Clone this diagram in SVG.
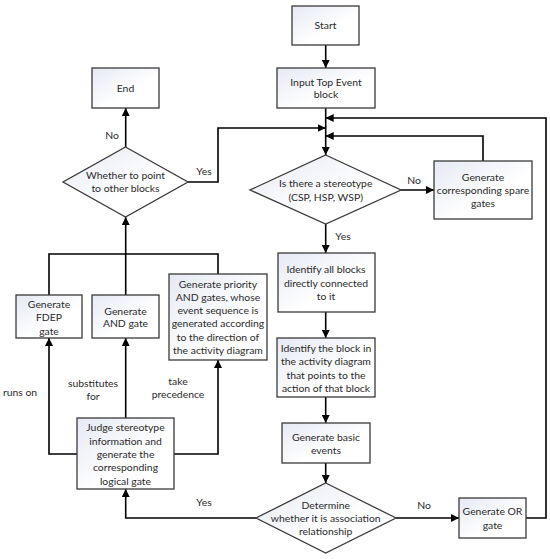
<svg xmlns="http://www.w3.org/2000/svg" width="550" height="559" viewBox="0 0 550 559">
<defs>
<linearGradient id="g" x1="0" y1="0" x2="1" y2="1">
<stop offset="0" stop-color="#e6e9f4"/>
<stop offset="0.6" stop-color="#ffffff"/>
</linearGradient>
<marker id="a" viewBox="0 0 10 10" refX="10" refY="5" markerWidth="8" markerHeight="8" markerUnits="userSpaceOnUse" orient="auto">
<path d="M0,0 L10,5 L0,10 Z" fill="#000"/>
</marker>
<style>
.n{fill:url(#g);stroke:#3a3a3a;stroke-width:1.3}
.c{fill:none;stroke:#000;stroke-width:1.6}
.c.ar{marker-end:url(#a)}
text{font-family:Lato,"Liberation Sans",sans-serif;font-size:10.4px;fill:#2a2a2a;text-anchor:middle}
</style>
</defs>
<rect width="550" height="559" fill="#fff"/>
<g id="connectors">
<path class="c ar" d="M325.7,45 V68"/>
<path class="c ar" d="M325.7,108 V155"/>
<path class="c ar" d="M188,182 H218 V128 H325.7"/>
<path class="c ar" d="M483,161 V136 H325.7"/>
<path class="c ar" d="M526,518 H546 V118 H325.7"/>
<path class="c ar" d="M401,190 H434"/>
<path class="c ar" d="M325.7,224 V253"/>
<path class="c ar" d="M325.7,312 V338"/>
<path class="c ar" d="M325.7,397 V423"/>
<path class="c ar" d="M325.7,463 V483"/>
<path class="c ar" d="M396,518 H459"/>
<path class="c ar" d="M256,518 H125.7 V489"/>
<path class="c ar" d="M77,454 H49 V338"/>
<path class="c ar" d="M125.7,418 V338"/>
<path class="c ar" d="M174,454 H218 V360"/>
<path class="c" d="M49,295 V254 H218 V274"/>
<path class="c ar" d="M125.7,295 V217"/>
<path class="c ar" d="M125.7,147 V108"/>
</g>
<g id="labels">
<text x="112" y="139">No</text>
<text x="204" y="175">Yes</text>
<text x="414" y="184">No</text>
<text x="343" y="240">Yes</text>
<text x="424" y="509">No</text>
<text x="204" y="506">Yes</text>
<text x="20" y="396">runs on</text>
<text x="93" y="387">substitutes</text>
<text x="93" y="400">for</text>
<text x="178" y="385">take</text>
<text x="178" y="398">precedence</text>
</g>
<g id="start"><rect class="n" x="292" y="6" width="67" height="39"/><text x="325.5" y="29">Start</text></g>
<g id="input"><rect class="n" x="277" y="68" width="98" height="40"/><text x="326" y="86">Input Top Event</text><text x="326" y="98">block</text></g>
<g id="end"><rect class="n" x="92" y="68" width="67" height="40"/><text x="125.5" y="92">End</text></g>
<g id="whether"><path class="n" d="M125.5,147 L188,182 L125.5,217 L63,182 Z"/><text x="125.5" y="179">Whether to point</text><text x="125.5" y="192">to other blocks</text></g>
<g id="stereotype"><path class="n" d="M325.7,155 L401,190 L325.7,224 L250,190 Z"/><text x="325.7" y="187">Is there a stereotype</text><text x="325.7" y="201">(CSP, HSP, WSP)</text></g>
<g id="spare"><rect class="n" x="434" y="161" width="98" height="58"/><text x="483" y="181">Generate</text><text x="483" y="194">corresponding spare</text><text x="483" y="207">gates</text></g>
<g id="identifyall"><rect class="n" x="278" y="253" width="97" height="59"/><text x="326" y="273">Identify all blocks</text><text x="326" y="287">directly connected</text><text x="326" y="300">to it</text></g>
<g id="identifyblock"><rect class="n" x="277" y="338" width="98" height="59"/><text x="326" y="352">Identify the block in</text><text x="326" y="365">the activity diagram</text><text x="326" y="378.5">that points to the</text><text x="326" y="392">action of that block</text></g>
<g id="basic"><rect class="n" x="282" y="423" width="88" height="40"/><text x="326" y="441">Generate basic</text><text x="326" y="454">events</text></g>
<g id="determine"><path class="n" d="M325.7,483 L396,518 L325.7,553 L256,518 Z"/><text x="325.7" y="509">Determine</text><text x="325.7" y="522">whether it is association</text><text x="325.7" y="535">relationship</text></g>
<g id="or"><rect class="n" x="459" y="498" width="67" height="40"/><text x="492.5" y="515">Generate OR</text><text x="492.5" y="529">gate</text></g>
<g id="judge"><rect class="n" x="77" y="418" width="97" height="71"/><text x="125.5" y="431">Judge stereotype</text><text x="125.5" y="444.7">information and</text><text x="125.5" y="458">generate the</text><text x="125.5" y="471">corresponding</text><text x="125.5" y="484.7">logical gate</text></g>
<g id="fdep"><rect class="n" x="16" y="295" width="66" height="43"/><text x="49" y="308">Generate</text><text x="49" y="321">FDEP</text><text x="49" y="335">gate</text></g>
<g id="and"><rect class="n" x="92" y="295" width="67" height="43"/><text x="125.5" y="315">Generate</text><text x="125.5" y="327">AND gate</text></g>
<g id="priority"><rect class="n" x="169" y="274" width="98" height="86"/><text x="218" y="288">Generate priority</text><text x="218" y="301">AND gates, whose</text><text x="218" y="314">event sequence is</text><text x="218" y="327">generated according</text><text x="218" y="340.5">to the direction of</text><text x="218" y="354">the activity diagram</text></g>
</svg>
